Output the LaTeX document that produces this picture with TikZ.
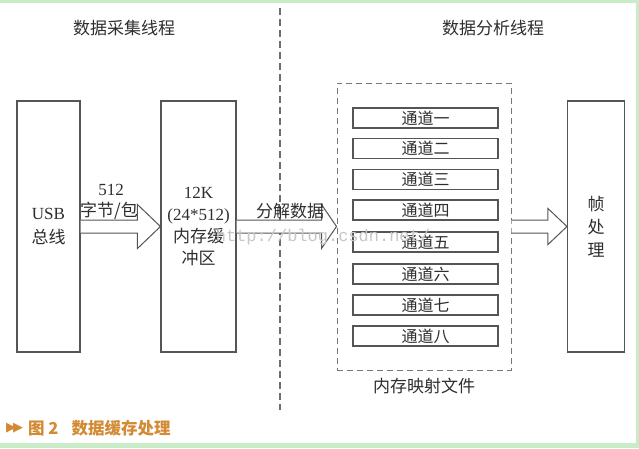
\documentclass[tikz,border=0pt]{standalone}
\usepackage{fontspec}
\setmainfont{Liberation Serif}
\newfontfamily\cjk{Noto Sans CJK SC}
\newfontfamily\symb{DejaVu Sans}
\newfontfamily\mono{Liberation Mono}
\usetikzlibrary{calc, positioning}
\definecolor{linegray}{HTML}{555555}
\definecolor{textgray}{HTML}{2E2E2E}
\definecolor{framegreen}{HTML}{C8ECC8}
\definecolor{caporange}{HTML}{D38A34}
\tikzset{
    thick,
    block/.style = {rectangle, draw=linegray, line width=1.1pt, fill=white, align=center,
                    text=textgray, font=\fontsize{17}{22}\selectfont},
    chan/.style = {rectangle, draw=linegray, line width=1.3pt, fill=white, minimum width=145pt,
                   minimum height=20pt, inner sep=0pt, text=textgray, font=\cjk\fontsize{16}{16}\selectfont},
    group/.style = {rectangle, draw=linegray!80, dashed, dash pattern=on 6pt off 4pt, line width=1pt,
                    minimum width=174pt, minimum height=287pt},
    title/.style = {text=textgray, font=\cjk\fontsize{17}{17}\selectfont},
    lbl/.style = {text=textgray, font=\fontsize{17}{17}\selectfont, inner sep=0pt},
    fat/.style = {draw=linegray, line width=1pt, fill=white, line join=miter}
}
% block arrow from the east side of #1 to the west side of #2, head length #3, head half height #4
\newcommand{\fatarrow}[4]{
  \path let \p1 = (#1.east), \p2 = (#2.west) in
    coordinate (s) at (\x1,\y1) coordinate (t) at (\x2,\y1);
  \filldraw[fat] ($(s)+(0,6.5)$) -- ($(t)+(-#3,6.5)$) -- ($(t)+(-#3,#4)$) -- (t)
     -- ($(t)+(-#3,-#4)$) -- ($(t)+(-#3,-6.5)$) -- ($(s)+(0,-6.5)$);
}

\begin{document}
\begin{tikzpicture}[x=1pt, y=-1pt]
  \fill[framegreen] (0,0) rectangle (639,448);
  \fill[white] (0,3) rectangle (636,443);
  \useasboundingbox (0,0) rectangle (639,448);

  \node[title] (t1) at (124,28) {数据采集线程};
  \node[title] (t2) at (493,28) {数据分析线程};
  \draw[linegray!85, line width=1.4pt, dash pattern=on 7pt off 4pt] (280,8) -- (280,410);

  \node[block, minimum width=63pt, minimum height=251pt] (usb) at (48.5,226.5)
     {USB\\[2pt]{\cjk 总线}};
  \node[block, minimum width=75pt, minimum height=251pt, font=\fontsize{17}{22}\selectfont] (buf) at (198.5,226.5)
     {12K\\(24*512)\\{\cjk 内存缓}\\{\cjk 冲区}};
  \node[group] (map) at (424,226.5) {};
  \node[block, minimum width=57pt, minimum height=251pt, font=\cjk\fontsize{17}{23}\selectfont] (frm) at (596,226.5)
     {帧\\处\\理};

  \node[chan] (c1) at (425.5,118) {通道一};
  \node[chan] (c2) at (425.5,148.5) {通道二};
  \node[chan] (c3) at (425.5,179.5) {通道三};
  \node[chan] (c4) at (425.5,210) {通道四};
  \node[chan] (c5) at (425.5,242) {通道五};
  \node[chan] (c6) at (425.5,274) {通道六};
  \node[chan] (c7) at (425.5,305) {通道七};
  \node[chan] (c8) at (425.5,336) {通道八};
  \node[title, below=4pt of map] (mlbl) {内存映射文件};

  \fatarrow{usb}{buf}{23}{22}
  \fatarrow{buf}{map}{15}{22}
  \fatarrow{map}{frm}{19}{18}

  \node[lbl] (n512) at (111,190) {512};
  \node[lbl, font=\cjk\fontsize{17}{17}\selectfont] (npkt) at (109,211) {字节/包};
  \node[lbl, font=\cjk\fontsize{17}{17}\selectfont] (nsplit) at (290,211) {分解数据};

  \node[text=black!22, font=\mono\fontsize{17}{17}\selectfont, inner sep=0pt] (wm) at (323,237) {http://blog.csdn.net/};

  \node[text=caporange, anchor=west, inner sep=0pt, font=\symb\fontsize{13}{13}\selectfont] (tri) at (6,428) {▶\hspace{-3pt}▶};
  \node[text=caporange, anchor=west, inner sep=0pt, font=\cjk\bfseries\fontsize{16.5}{17}\selectfont] (cap) at (28,428)
     {图 2\hspace{13pt}数据缓存处理};
\end{tikzpicture}
\end{document}
